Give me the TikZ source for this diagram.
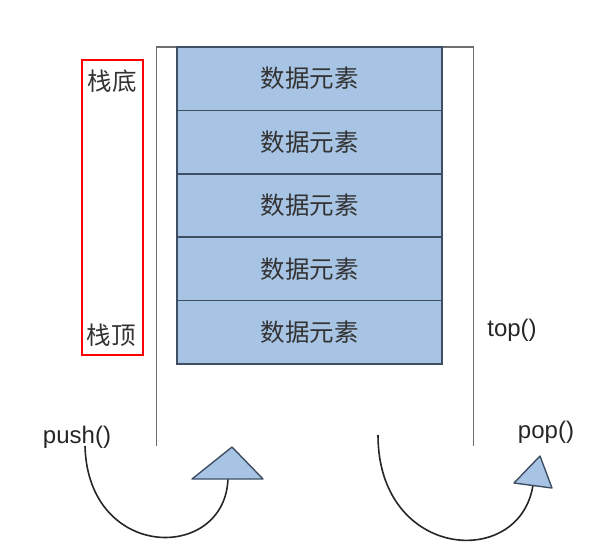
\documentclass[tikz,border=0pt]{standalone}
\usepackage{fontspec}
\setmainfont{Liberation Sans}
\newfontfamily\cjk{Noto Sans CJK SC}
\definecolor{cellblue}{HTML}{A8C4E4}
\definecolor{celledge}{HTML}{3E4E63}
\definecolor{wallgray}{HTML}{6E6E6E}
\definecolor{txtgray}{HTML}{333333}
\begin{document}
\begin{tikzpicture}[x=1pt,y=-1pt,
  cell/.style={draw=celledge,line width=1.5pt,fill=cellblue,minimum width=265pt,minimum height=63.4pt,inner sep=0pt,outer sep=0pt,
    font=\cjk\fontsize{24.5}{27}\selectfont,text=txtgray},
  lbl/.style={font=\cjk\fontsize{24.5}{27}\selectfont,text=txtgray,inner sep=0pt},
  op/.style={font=\fontsize{24}{27}\selectfont,text=black!85,inner sep=0pt},
  wall/.style={draw=wallgray,line width=1.8pt},
  arc/.style={draw=black!85,line width=1.6pt},
  tri/.style={draw=celledge,line width=1.4pt,fill=cellblue,line join=round}]
\useasboundingbox (0,0) rectangle (595,552);
% container
\coordinate (wl) at (156.5,446);
\coordinate (wtl) at (156.5,47);
\coordinate (wtr) at (473.5,47);
\coordinate (wr) at (473.5,446);
\draw[wall] (wl) -- (wtl) -- (wtr) -- (wr);
% cells
\node[cell] (c1) at (309.5,78.7) {数据元素};
\node[cell,anchor=north] (c2) at (c1.south) {数据元素};
\node[cell,anchor=north] (c3) at (c2.south) {数据元素};
\node[cell,anchor=north] (c4) at (c3.south) {数据元素};
\node[cell,anchor=north] (c5) at (c4.south) {数据元素};
% red bracket box
\node[draw=red,line width=1.4pt,minimum width=61pt,minimum height=295pt,inner sep=0pt,outer sep=0pt] (rb) at (112.5,207.5) {};
\node[lbl] (bottom) at (112,81) {栈底};
\node[lbl] (topl) at (111,335) {栈顶};
% operation labels
\node[op] (top) at (512,330) {top()};
\node[op] (push) at (77,437) {push()};
\node[op] (pop) at (546,432) {pop()};
% push arrow
\coordinate (ps) at (85,446);
\coordinate (pe) at (228,478);
\draw[arc] (ps) .. controls (88,562) and (226,562) .. (pe);
\coordinate (pa) at (232,447);
\coordinate (pb) at (192,479);
\coordinate (pc) at (263,479);
\draw[tri] (pa) -- (pb) -- (pc) -- cycle;
% pop arrow
\coordinate (qs) at (378,435);
\coordinate (qe) at (533,485);
\draw[arc] (qs) .. controls (378,560) and (520,570) .. (qe);
\coordinate (qa) at (540,456);
\coordinate (qb) at (514,483);
\coordinate (qc) at (552,488);
\draw[tri] (qa) -- (qb) -- (qc) -- cycle;
\end{tikzpicture}
\end{document}
